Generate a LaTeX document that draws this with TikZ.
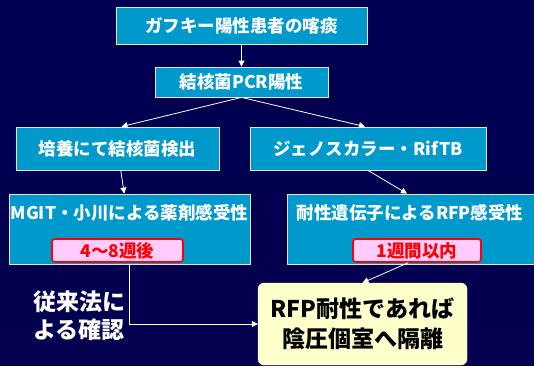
\documentclass[tikz,border=0pt]{standalone}
\usepackage{fontspec}
\setmainfont{Noto Sans CJK JP}
\usepackage{xcolor}
\usetikzlibrary{arrows.meta, positioning}

\definecolor{navytop}{RGB}{0,0,80}
\definecolor{navymid}{RGB}{5,0,25}
\definecolor{navybot}{RGB}{5,0,80}
\definecolor{boxblue}{RGB}{0,153,204}
\definecolor{pinkfill}{RGB}{255,204,255}
\definecolor{creamfill}{RGB}{255,255,204}

\begin{document}
\begin{tikzpicture}[x=1pt, y=-1pt,
        block/.style={rectangle, draw=white!80!gray, line width=0.8pt, fill=boxblue,
                      text=white, font=\fontsize{17.5}{20}\selectfont\bfseries,
                      inner sep=0pt, align=center},
        tag/.style={rectangle, rounded corners=3pt, draw=red, line width=1.6pt,
                    fill=pinkfill, text=red, inner sep=0pt,
                    font=\fontsize{17.5}{20}\selectfont\bfseries},
        result/.style={rectangle, rounded corners=6pt, draw=white!85!yellow,
                       fill=creamfill, text=black, inner sep=0pt, align=center,
                       font=\fontsize{23}{30}\selectfont\bfseries},
        arr/.style={-{Triangle[length=6pt, width=6pt]}, white, line width=0.8pt},
    ]
        % Background
        \shade[top color=navytop, middle color=navymid, bottom color=navybot]
            (0,0) rectangle (534,365);
        \useasboundingbox (0,0) rectangle (534,365);

        % Top of the chart
        \node[block, minimum width=251pt, minimum height=37pt] (b1) at (241.5,25.5) {ガフキー陽性患者の喀痰};
        \node[block, minimum width=173pt, minimum height=30pt] (b2) at (241.5,82) {結核菌PCR陽性};

        % Two branches
        \node[block, minimum width=203pt, minimum height=43pt] (b3) at (117.5,148.5) {培養にて結核菌検出};
        \node[block, minimum width=236pt, minimum height=43pt] (b4) at (368,148.5) {ジェノスカラー・RifTB};

        % Susceptibility boxes
        \node[block, minimum width=241pt, minimum height=70pt] (b5) at (129.5,229) {};
        \node[font=\fontsize{17.5}{20}\selectfont\bfseries, text=white] (t5) at (129.5,213) {MGIT・小川による薬剤感受性};
        \node[tag, minimum width=131pt, minimum height=23pt] (p5) at (117.5,250.5) {4～8週後};

        \node[block, minimum width=270pt, minimum height=70pt] (b6) at (422,229) {};
        \node[font=\fontsize{17.5}{20}\selectfont\bfseries, text=white] (t6) at (410,213) {耐性遺伝子によるRFP感受性};
        \node[tag, minimum width=128pt, minimum height=23pt] (p6) at (417,250.5) {1週間以内};

        % Result
        \node[result, minimum width=209pt, minimum height=82pt] (b7) at (362.5,324) {RFP耐性であれば\\陰圧個室へ隔離};
        \node[font=\fontsize{23}{28}\selectfont\bfseries, text=white, align=left] (conv) at (79,316) {従来法に\\よる確認};

        % Arrows
        \draw[arr] (b1) -- (b2);
        \draw[arr] (b2.south) -- ([xshift=4pt]b3.north);
        \draw[arr] (b2.south) -- ([xshift=-3pt]b4.north);
        \draw[arr] (b3) -- (b5);
        \draw[arr] (b4.south) -- ([xshift=-15pt]b6.north);
        \draw[arr] ([xshift=-9pt]p6.south) -- (b7.north);
        \draw[arr] (b5.south) |- (b7.west);
    \end{tikzpicture}
\end{document}
